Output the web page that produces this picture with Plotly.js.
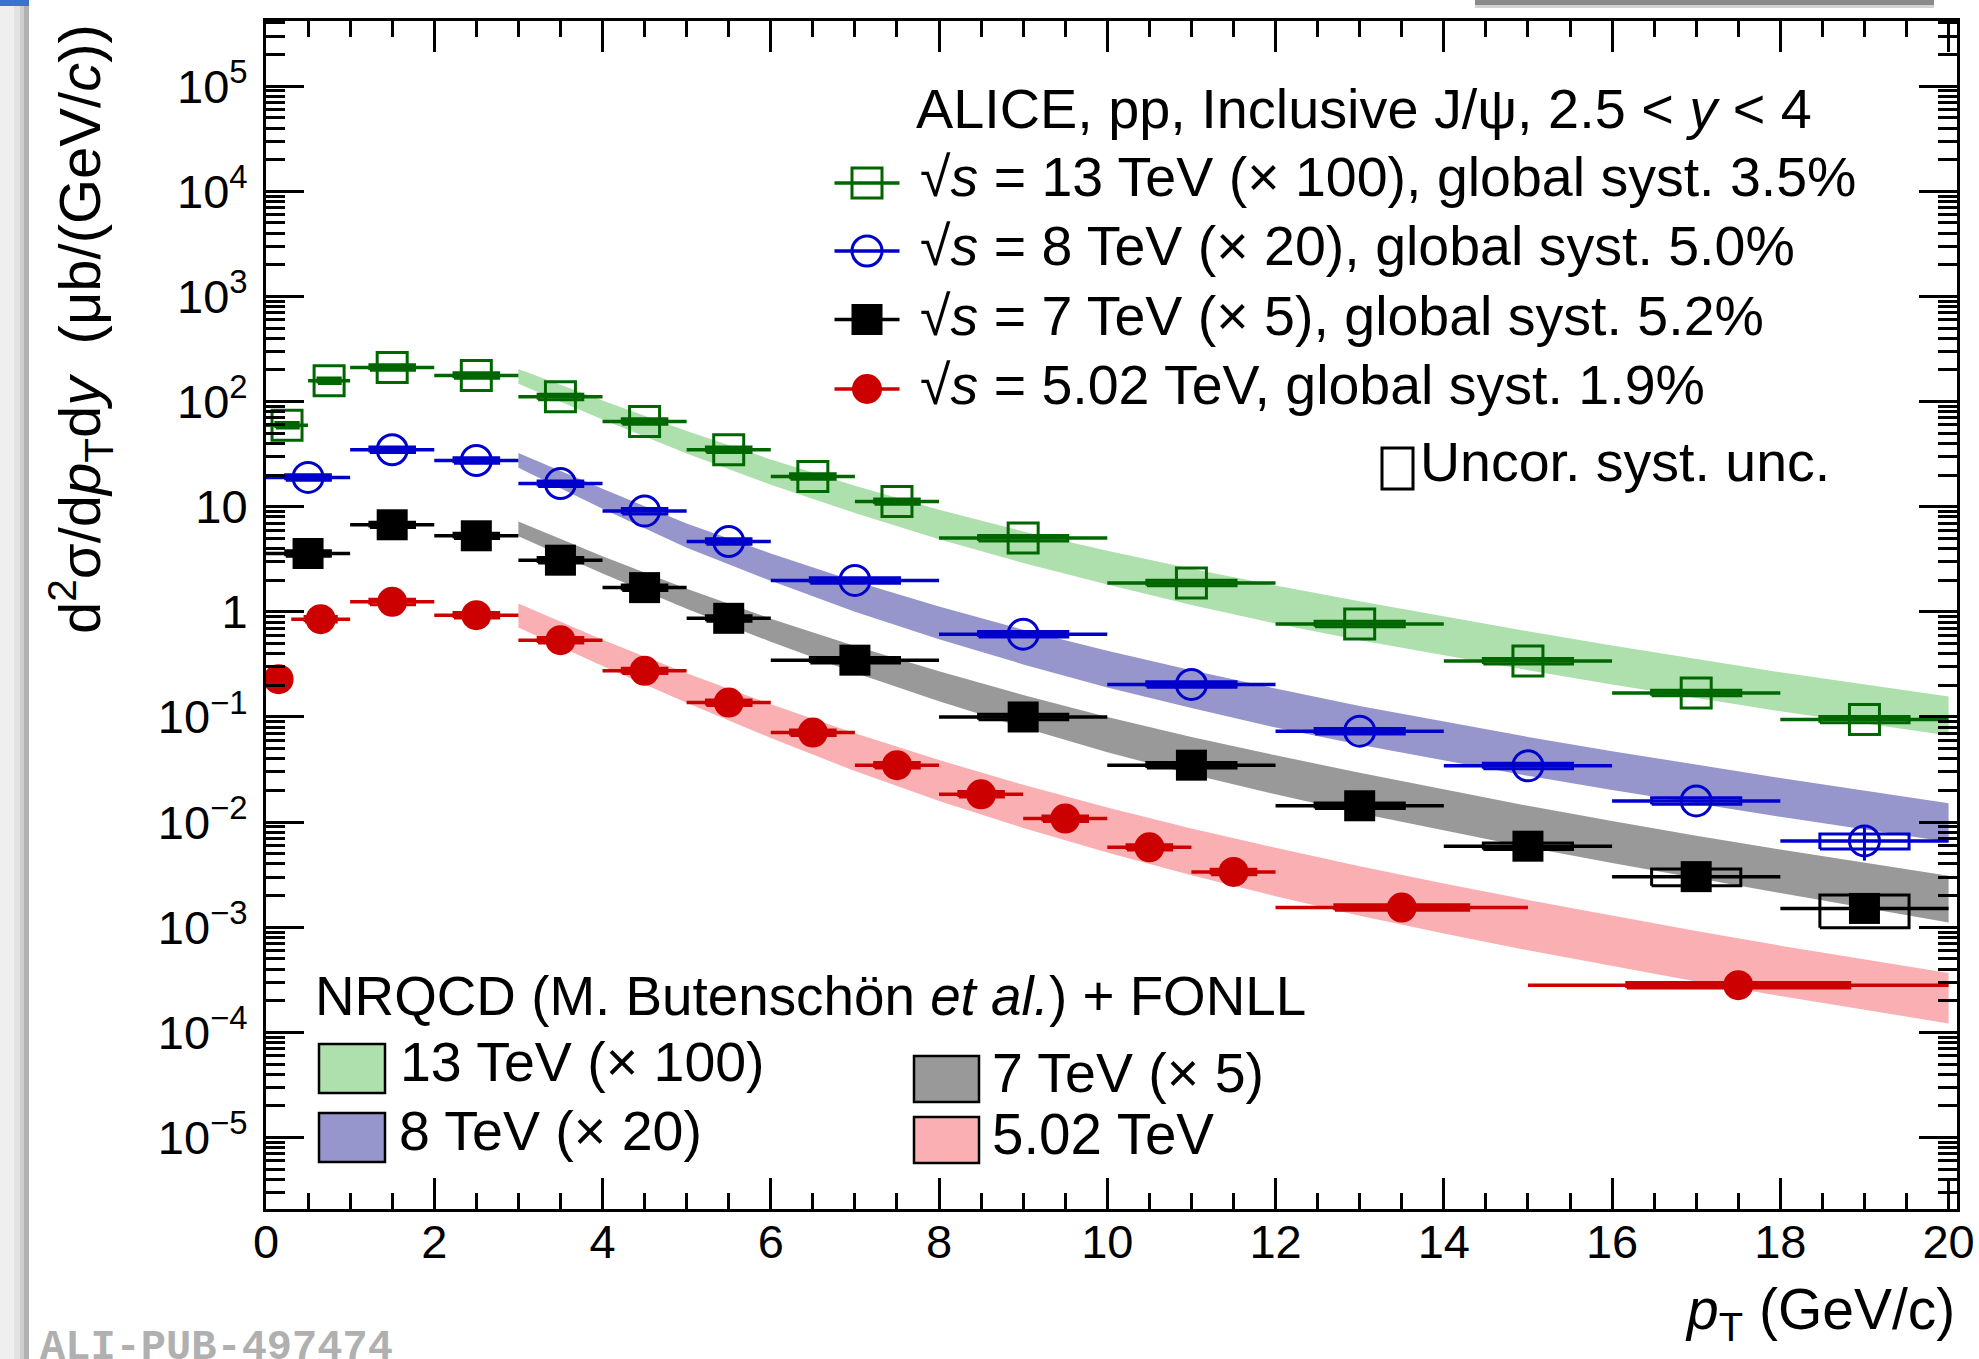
<!DOCTYPE html>
<html><head><meta charset="utf-8">
<script src="https://cdn.plot.ly/plotly-3.0.1.min.js"></script>
<style>html,body{margin:0;padding:0;background:#fff;}#chart{width:1979px;height:1359px;}</style>
</head><body><div id="chart"></div>
<script>
// ---------------- DATA ----------------
// sqrt(s) = 13 TeV (x 100)
const x13  = [0.25, 0.75, 1.5, 2.5, 3.5, 4.5, 5.5, 6.5, 7.5, 9, 11, 13, 15, 17, 19];
const lo13 = [0, 0.5, 1, 2, 3, 4, 5, 6, 7, 8, 10, 12, 14, 16, 18];
const hi13 = [0.5, 1, 2, 3, 4, 5, 6, 7, 8, 10, 12, 14, 16, 18, 20];
const y13  = [59.7, 158, 211, 177, 111, 64.7, 34.8, 19.4, 11.2, 5.03, 1.88, 0.767, 0.340, 0.169, 0.0946];
const sys13 = [0.06, 0.06, 0.06, 0.06, 0.06, 0.06, 0.06, 0.06, 0.06, 0.06, 0.06, 0.06, 0.06, 0.06, 0.07];

// sqrt(s) = 8 TeV (x 20)
const x8  = [0.5, 1.5, 2.5, 3.5, 4.5, 5.5, 7, 9, 11, 13, 15, 17, 19];
const lo8 = [0, 1, 2, 3, 4, 5, 6, 8, 10, 12, 14, 16, 18];
const hi8 = [1, 2, 3, 4, 5, 6, 8, 10, 12, 14, 16, 18, 20];
const y8  = [19.0, 34.8, 27.5, 16.6, 9.08, 4.67, 1.99, 0.613, 0.204, 0.0733, 0.0343, 0.0159, 0.00662];
const sys8  = [0.06, 0.06, 0.06, 0.06, 0.06, 0.06, 0.06, 0.06, 0.06, 0.06, 0.06, 0.07, 0.163];
const stat8 = [0, 0, 0, 0, 0, 0, 0, 0, 0, 0, 0, 0, 0.35];

// sqrt(s) = 7 TeV (x 5)
const x7  = [0.5, 1.5, 2.5, 3.5, 4.5, 5.5, 7, 9, 11, 13, 15, 17, 19];
const lo7 = [0, 1, 2, 3, 4, 5, 6, 8, 10, 12, 14, 16, 18];
const hi7 = [1, 2, 3, 4, 5, 6, 8, 10, 12, 14, 16, 18, 20];
const y7  = [3.59, 6.73, 5.29, 3.10, 1.70, 0.868, 0.347, 0.100, 0.0348, 0.0143, 0.0059, 0.00303, 0.00151];
const sys7 = [0.06, 0.06, 0.06, 0.06, 0.06, 0.06, 0.06, 0.06, 0.06, 0.06, 0.07, 0.18, 0.345];

// sqrt(s) = 5.02 TeV
const x5  = [0.15, 0.65, 1.5, 2.5, 3.5, 4.5, 5.5, 6.5, 7.5, 8.5, 9.5, 10.5, 11.5, 13.5, 17.5];
const lo5 = [0, 0.3, 1, 2, 3, 4, 5, 6, 7, 8, 9, 10, 11, 12, 15];
const hi5 = [0.3, 1, 2, 3, 4, 5, 6, 7, 8, 9, 10, 11, 12, 15, 20];
const y5  = [0.229, 0.852, 1.245, 0.93, 0.537, 0.275, 0.137, 0.0711, 0.0348, 0.0184, 0.0108, 0.00576, 0.00336, 0.00154, 0.000281];
const sys5 = [0.06, 0.06, 0.06, 0.06, 0.06, 0.06, 0.06, 0.06, 0.06, 0.06, 0.06, 0.06, 0.06, 0.06, 0.06];

// NRQCD (Butenschoen et al.) + FONLL bands
const bandX = [3, 4, 5, 6, 7, 8, 9, 10, 11, 12, 13, 14, 15, 16, 17, 18, 20];
const band13Hi = [204.2, 102.3, 52.48, 28.18, 15.85, 9.333, 5.821, 3.802, 2.570, 1.778, 1.259, 0.9016, 0.6531, 0.4786, 0.3548, 0.2661, 0.1567];
const band13Lo = [147.9, 67.61, 31.99, 16.22, 8.710, 4.898, 2.917, 1.820, 1.161, 0.7762, 0.5370, 0.3846, 0.2786, 0.2042, 0.1514, 0.1135, 0.06683];
const band8Hi  = [32.36, 14.79, 6.918, 3.589, 1.950, 1.122, 0.6761, 0.4266, 0.2786, 0.1862, 0.1274, 0.09016, 0.06457, 0.04732, 0.03508, 0.02630, 0.01514];
const band8Lo  = [23.44, 9.550, 4.074, 1.972, 1.000, 0.5495, 0.3162, 0.1905, 0.1216, 0.07943, 0.05433, 0.03846, 0.02754, 0.02018, 0.01496, 0.01122, 0.006457];
const band7Hi  = [7.244, 3.388, 1.660, 0.8610, 0.4732, 0.2723, 0.1622, 0.1000, 0.06457, 0.04315, 0.02951, 0.02042, 0.01429, 0.01023, 0.007413, 0.005495, 0.003090];
const band7Lo  = [5.248, 2.317, 1.072, 0.5188, 0.2630, 0.1413, 0.07943, 0.04624, 0.02851, 0.01841, 0.01216, 0.008318, 0.005754, 0.004074, 0.002917, 0.002113, 0.001109];
const band5Hi  = [1.202, 0.5433, 0.2600, 0.1318, 0.06998, 0.03890, 0.02265, 0.01380, 0.008710, 0.005689, 0.003802, 0.002600, 0.001820, 0.001288, 0.0009226, 0.0006683, 0.0003673];
const band5Lo  = [0.7079, 0.3055, 0.1365, 0.06310, 0.03055, 0.01585, 0.008810, 0.005129, 0.003126, 0.001972, 0.001288, 0.0008710, 0.0006026, 0.0004266, 0.0003055, 0.0002213, 0.0001216];

// axis ticks
const yTickVals = [1e-5, 1e-4, 1e-3, 1e-2, 1e-1, 1, 10, 100, 1e3, 1e4, 1e5];
const yTickText = ['10<sup>\u22125</sup>', '10<sup>\u22124</sup>', '10<sup>\u22123</sup>', '10<sup>\u22122</sup>', '10<sup>\u22121</sup>', '1', '10', '10<sup>2</sup>', '10<sup>3</sup>', '10<sup>4</sup>', '10<sup>5</sup>'];
const yMinorMant = [2, 3, 4, 5, 6, 7, 8, 9];
const yMinorExp = [-6, -5, -4, -3, -2, -1, 0, 1, 2, 3, 4, 5];

// ---------------- STYLE ----------------
const FONT = 'Liberation Sans, Arial, Helvetica, sans-serif';
const FS = 55.5;
const W = 1979, H = 1359, ML = 266, MR = 22, MT = 21, MB = 150;
const PW = W - ML - MR, PH = H - MT - MB;
const px = p => (p - ML) / PW;            // pixel -> paper x
const py = p => (H - MB - p) / PH;        // pixel -> paper y
const C13 = '#006600', C8 = '#0000cc', C7 = '#000000', C5 = '#cc0000';
const F13 = 'rgb(174,224,174)', F8 = 'rgb(150,150,204)', F7 = 'rgb(153,153,153)', F5 = 'rgb(250,176,178)';
const BOXFRAC = 0.265;
const ERRW = 3.5;

const traces = [];

function band(hi, lo, fill) {
  traces.push({x: bandX, y: lo, type: 'scatter', mode: 'lines', line: {width: 0}, hoverinfo: 'skip', showlegend: false});
  traces.push({x: bandX, y: hi, type: 'scatter', mode: 'lines', fill: 'tonexty', fillcolor: fill, line: {width: 0}, hoverinfo: 'skip', showlegend: false});
}
band(band13Hi, band13Lo, F13);
band(band8Hi, band8Lo, F8);
band(band7Hi, band7Lo, F7);
band(band5Hi, band5Lo, F5);

function systBoxes(x, y, lo, hi, s, color) {
  const bx = [], by = [];
  for (let i = 0; i < x.length; i++) {
    const hw = BOXFRAC * (hi[i] - lo[i]);
    const x0 = x[i] - hw, x1 = x[i] + hw, yb = y[i] * (1 - s[i]), yt = y[i] * (1 + s[i]);
    bx.push(x0, x1, x1, x0, x0, null);
    by.push(yb, yb, yt, yt, yb, null);
  }
  traces.push({x: bx, y: by, type: 'scatter', mode: 'lines', line: {color: color, width: 3}, hoverinfo: 'skip', showlegend: false, connectgaps: false});
}
function points(x, y, lo, hi, color, symbol, size, lw, stat) {
  const t = {
    x: x, y: y, type: 'scatter', mode: 'markers', showlegend: false, cliponaxis: false,
    marker: {symbol: symbol, size: size, color: color, line: {color: color, width: lw}},
    error_x: {type: 'data', symmetric: false, array: x.map((v, i) => hi[i] - v), arrayminus: x.map((v, i) => v - lo[i]), thickness: ERRW, width: 0, color: color}
  };
  if (stat) t.error_y = {type: 'data', array: y.map((v, i) => v * stat[i]), thickness: 3, width: 0, color: color};
  traces.push(t);
}
systBoxes(x13, y13, lo13, hi13, sys13, C13);
systBoxes(x8, y8, lo8, hi8, sys8, C8);
systBoxes(x7, y7, lo7, hi7, sys7, C7);
systBoxes(x5, y5, lo5, hi5, sys5, C5);
points(x13, y13, lo13, hi13, C13, 'square-open', 30, 3);
points(x8, y8, lo8, hi8, C8, 'circle-open', 30, 3, stat8);
points(x7, y7, lo7, hi7, C7, 'square', 31, 0);
points(x5, y5, lo5, hi5, C5, 'circle', 30, 0);

// legend samples (overlay axes in paper-like units)
const legRows = [183, 251, 319.5, 389];
const legCols = [C13, C8, C7, C5];
const legSym = ['square-open', 'circle-open', 'square', 'circle'];
const legSize = [30, 30, 31, 30];
const legLW = [3, 3, 0, 0];
for (let i = 0; i < 4; i++) {
  traces.push({x: [px(867)], y: [py(legRows[i])], xaxis: 'x2', yaxis: 'y2', type: 'scatter', mode: 'markers', showlegend: false, hoverinfo: 'skip', cliponaxis: false,
    marker: {symbol: legSym[i], size: legSize[i], color: legCols[i], line: {color: legCols[i], width: legLW[i]}},
    error_x: {type: 'data', array: [32.5 / PW], thickness: ERRW, width: 0, color: legCols[i]}});
}

const yMinor = [];
yMinorExp.forEach(e => yMinorMant.forEach(m => yMinor.push(m * Math.pow(10, e))));

const ann = [];
function txt(t, xp, yp, opts) {
  ann.push(Object.assign({text: t, x: px(xp), y: py(yp), xref: 'paper', yref: 'paper', showarrow: false, xanchor: 'left', yanchor: 'middle', font: {family: FONT, size: FS, color: '#000'}}, opts || {}));
}
txt('ALICE, pp, Inclusive J/\u03c8, 2.5 &lt; <i>y</i> &lt; 4', 914, 108.5, {font: {family: FONT, size: 55.8, color: '#000'}});
txt('\u221a<i>s</i> = 13 TeV (\u00d7 100), global syst. 3.5%', 918, 177);
txt('\u221a<i>s</i> = 8 TeV (\u00d7 20), global syst. 5.0%', 918, 246);
txt('\u221a<i>s</i> = 7 TeV (\u00d7 5), global syst. 5.2%', 918, 315.5);
txt('\u221a<i>s</i> = 5.02 TeV, global syst. 1.9%', 918, 384.5);
txt('Uncor. syst. unc.', 1418, 461.5);
txt('NRQCD (M. Butensch\u00f6n <i>et al.</i>) + FONLL', 313, 996, {font: {family: FONT, size: 54.8, color: '#000'}});
txt('13 TeV (\u00d7 100)', 398, 1062);
txt('8 TeV (\u00d7 20)', 397, 1131);
txt('7 TeV (\u00d7 5)', 990, 1073);
txt('5.02 TeV', 990, 1134, {font: {family: FONT, size: 56.5, color: '#000'}});
txt('<i>p</i><sub>T</sub> (GeV/c)', 1957, 1313, {xanchor: 'right', font: {family: FONT, size: 57, color: '#000'}});
txt('d<sup>2</sup>\u03c3/d<i>p</i><sub>T</sub>d<i>y</i>\u00a0\u00a0(\u03bcb/(GeV/<i>c</i>))', 80, 22, {xanchor: 'center', yanchor: 'top', textangle: -90, font: {family: FONT, size: 58, color: '#000'}});
txt('ALI-PUB-497474', 38, 1322, {yanchor: 'top', font: {family: 'Liberation Mono, Courier New, monospace', size: 42, color: '#b0b0b0', weight: 'bold'}});

const shapes = [];
function rect(x0, y0, x1, y1, fill, lc, lw) {
  shapes.push({type: 'rect', xref: 'paper', yref: 'paper', x0: px(x0), x1: px(x1), y0: py(y1), y1: py(y0), fillcolor: fill, line: {color: lc || 'rgba(0,0,0,0)', width: lw || 0}, layer: 'above'});
}
rect(319, 1044, 385, 1093, F13, '#000', 2.5);
rect(319, 1113, 385, 1162, F8, '#000', 2.5);
rect(914, 1056, 979, 1102, F7, '#000', 2.5);
rect(914, 1117, 979, 1163, F5, '#000', 2.5);
rect(1382, 448, 1413, 489, 'rgba(0,0,0,0)', '#000', 3);
// screenshot frame artefacts
rect(0, 0, 14, H, '#efefef');
rect(14, 0, 20, H, '#e2e2e2');
rect(20, 0, 24, H, '#cdcdcd');
rect(24, 0, 29, H, '#b2b2b2');
rect(0, 0, 29, 6, '#3f6fd0');
rect(1475, 0, 1934, 5, '#8a8a8a');
rect(1475, 5, 1934, 8, '#d2d2d2');

const layout = {
  width: W, height: H,
  margin: {l: ML, r: MR, t: MT, b: MB, pad: 0},
  paper_bgcolor: '#fff', plot_bgcolor: '#fff',
  showlegend: false,
  font: {family: FONT, color: '#000'},
  xaxis: {
    range: [0, 20.1], showgrid: false, zeroline: false,
    showline: true, linecolor: '#000', linewidth: 3, mirror: 'allticks',
    ticks: 'inside', ticklen: 31, tickwidth: 3, tickcolor: '#000',
    tick0: 0, dtick: 2, tickfont: {family: FONT, size: 47, color: '#000'}, ticklabelstandoff: -10,
    minor: {dtick: 0.5, tick0: 0, ticks: 'inside', ticklen: 16, tickwidth: 3, tickcolor: '#000', showgrid: false}
  },
  yaxis: {
    type: 'log', range: [-5.68, 5.62], showgrid: false, zeroline: false,
    showline: true, linecolor: '#000', linewidth: 3, mirror: 'allticks',
    ticks: 'inside', ticklen: 38, tickwidth: 3, tickcolor: '#000',
    tickmode: 'array', tickvals: yTickVals, ticktext: yTickText,
    tickfont: {family: FONT, size: 47, color: '#000'}, ticklabelstandoff: 6,
    minor: {tickmode: 'array', tickvals: yMinor, ticks: 'inside', ticklen: 19, tickwidth: 3, tickcolor: '#000', showgrid: false}
  },
  xaxis2: {overlaying: 'x', range: [0, 1], visible: false, fixedrange: true},
  yaxis2: {overlaying: 'y', range: [0, 1], visible: false, fixedrange: true},
  annotations: ann,
  shapes: shapes
};

Plotly.newPlot('chart', traces, layout, {staticPlot: true, displayModeBar: false});
</script>
</body></html>
